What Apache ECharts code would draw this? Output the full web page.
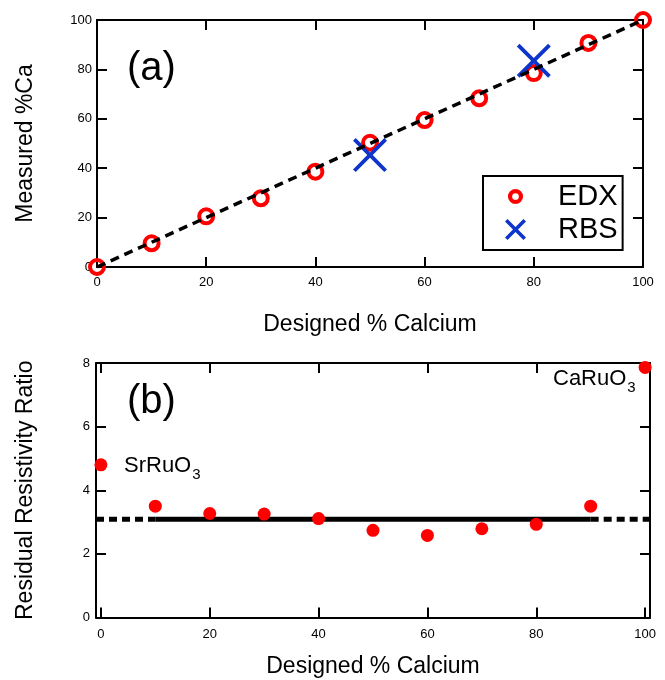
<!DOCTYPE html>
<html>
<head>
<meta charset="utf-8">
<script src="https://cdn.jsdelivr.net/npm/echarts@6/dist/echarts.min.js"></script>
<style>
html, body { margin: 0; padding: 0; background: #fff; }
#main { width: 665px; height: 680px; }
</style>
</head>
<body>
<div id="main"></div>
<script>
// 设计的 Ca 百分比
var designed = [0, 10, 20, 30, 40, 50, 60, 70, 80, 90, 100];
// (a) EDX 测得的 Ca
var edxMeasured = [0, 9.6, 20.5, 27.8, 38.6, 50.3, 59.5, 68.3, 78.5, 90.7, 100];
// (a) RBS 测得的 Ca
var rbsDesigned = [50, 80];
var rbsMeasured = [45.3, 83.5];
// (b) 剩余电阻比
var rrr = [4.8, 3.5, 3.27, 3.25, 3.11, 2.74, 2.58, 2.79, 2.93, 3.5, 7.86];
var rrrLevel = 3.09;
var rrrSolidRange = [10, 90];
// 刻度
var xTicks = [0, 20, 40, 60, 80, 100];
var xRangeB = [-0.9, 100.9];

var font = 'Liberation Sans, Arial, Helvetica, sans-serif';
var blue = '#0d35cc';
var crossPath = 'path://M0,8L8,0L50,42L92,0L100,8L58,50L100,92L92,100L50,58L8,100L0,92L42,50Z';
// 图例用的图标（100x100 的框）
var crossPathLegend = 'path://M0,12L12,0L50,38L88,0L100,12L62,50L100,88L88,100L50,62L12,100L0,88L38,50Z';
var ringPathLegend = 'path://M0,0L0.01,0L0,0Z M100,100L99.99,100L100,100Z ' +
    'M86,50A36,36,0,1,1,14,50A36,36,0,1,1,86,50Z ' +
    'M66,50A16,16,0,1,0,34,50A16,16,0,1,0,66,50Z';

function pairs(xs, ys) {
    return xs.map(function (x, i) { return [x, ys[i]]; });
}

// 四周的坐标轴样式
function axisBase(extra) {
    var a = {
        type: 'value',
        axisLine: { show: true, onZero: false, lineStyle: { color: '#000', width: 2 } },
        axisTick: { show: true, inside: true, length: 10, lineStyle: { color: '#000', width: 2 } },
        axisLabel: { color: '#000', fontSize: 13, fontFamily: font },
        splitLine: { show: false },
        nameTextStyle: { color: '#000', fontSize: 23, fontFamily: font }
    };
    for (var k in extra) { a[k] = extra[k]; }
    return a;
}

var div = document.getElementById('main');
var myChart = echarts.init(div);

var option = {
    backgroundColor: '#fff',
    animation: false,
    grid: [
        { left: 97, top: 20, width: 546, height: 247 },
        { left: 96, top: 363, width: 554, height: 254.5 }
    ],
    xAxis: [
        axisBase({ gridIndex: 0, position: 'bottom', min: 0, max: 100, interval: 20,
            axisLabel: { color: '#000', fontSize: 13, fontFamily: font, margin: 9 },
            name: 'Designed % Calcium', nameLocation: 'middle', nameGap: 46 }),
        axisBase({ gridIndex: 0, position: 'top', min: 0, max: 100, interval: 20,
            axisLabel: { show: false } }),
        axisBase({ gridIndex: 1, position: 'bottom', min: xRangeB[0], max: xRangeB[1],
            axisTick: { show: true, inside: true, length: 10, customValues: xTicks, lineStyle: { color: '#000', width: 2 } },
            axisLabel: { color: '#000', fontSize: 13, fontFamily: font, margin: 10, customValues: xTicks },
            name: 'Designed % Calcium', nameLocation: 'middle', nameGap: 38 }),
        axisBase({ gridIndex: 1, position: 'top', min: xRangeB[0], max: xRangeB[1],
            axisTick: { show: true, inside: true, length: 10, customValues: xTicks, lineStyle: { color: '#000', width: 2 } },
            axisLabel: { show: false } })
    ],
    yAxis: [
        axisBase({ gridIndex: 0, position: 'left', min: 0, max: 100, interval: 20,
            axisLabel: { color: '#000', fontSize: 13, fontFamily: font, margin: 5 },
            name: 'Measured %Ca', nameLocation: 'middle', nameGap: 60 }),
        axisBase({ gridIndex: 0, position: 'right', min: 0, max: 100, interval: 20,
            axisLabel: { show: false } }),
        axisBase({ gridIndex: 1, position: 'left', min: 0, max: 8, interval: 2,
            axisLabel: { color: '#000', fontSize: 13, fontFamily: font, margin: 6 },
            name: 'Residual Resistivity Ratio', nameLocation: 'middle', nameGap: 59 }),
        axisBase({ gridIndex: 1, position: 'right', min: 0, max: 8, interval: 2,
            axisLabel: { show: false } })
    ],
    legend: {
        data: [
            { name: 'EDX', icon: ringPathLegend, itemStyle: { color: '#f00', borderWidth: 0 } },
            { name: 'RBS', icon: crossPathLegend, itemStyle: { color: blue, borderWidth: 0 } }
        ],
        orient: 'vertical',
        left: 483,
        top: 176,
        itemWidth: 21,
        itemHeight: 21,
        itemGap: 4,
        padding: [6, 5, 6, 22],
        borderColor: '#000',
        borderWidth: 2,
        backgroundColor: '#fff',
        textStyle: { color: '#000', fontSize: 29, fontFamily: font, padding: [0, 0, 0, 27], lineHeight: 29 }
    },
    graphic: [
        { type: 'text', left: 127, top: 49, style: { text: '(a)', fontSize: 40, fontFamily: font, fill: '#000' } },
        { type: 'text', left: 127, top: 382, style: { text: '(b)', fontSize: 40, fontFamily: font, fill: '#000' } },
        { type: 'text', left: 124, top: 455, style: {
            text: '{n|SrRuO}{s|3}', fill: '#000',
            rich: { n: { fontSize: 22, fontFamily: font, verticalAlign: 'bottom' },
                    s: { fontSize: 15, fontFamily: font, verticalAlign: 'bottom', padding: [0, 0, -5, 1] } } } },
        { type: 'text', left: 553, top: 368, style: {
            text: '{n|CaRuO}{s|3}', fill: '#000',
            rich: { n: { fontSize: 22, fontFamily: font, verticalAlign: 'bottom' },
                    s: { fontSize: 15, fontFamily: font, verticalAlign: 'bottom', padding: [0, 0, -5, 1] } } } }
    ],
    series: [
        {
            name: 'EDX',
            type: 'scatter',
            xAxisIndex: 0,
            yAxisIndex: 0,
            symbol: 'circle',
            symbolSize: 14,
            itemStyle: { color: 'rgba(255,255,255,0)', borderColor: '#f00', borderWidth: 4, opacity: 1 },
            data: pairs(designed, edxMeasured),
            z: 2
        },
        {
            name: 'RBS',
            type: 'scatter',
            xAxisIndex: 0,
            yAxisIndex: 0,
            symbol: crossPath,
            symbolSize: 34,
            itemStyle: { color: blue, opacity: 1 },
            data: pairs(rbsDesigned, rbsMeasured),
            z: 3
        },
        {
            // y = x 虚线
            type: 'line',
            xAxisIndex: 0,
            yAxisIndex: 0,
            symbol: 'none',
            lineStyle: { color: '#000', width: 3.5, type: [9, 6] },
            data: [[0, 0], [100, 100]],
            z: 4
        },
        {
            type: 'line',
            xAxisIndex: 2,
            yAxisIndex: 2,
            symbol: 'none',
            lineStyle: { color: '#000', width: 5 },
            data: [[rrrSolidRange[0], rrrLevel], [rrrSolidRange[1], rrrLevel]],
            z: 2
        },
        {
            type: 'line',
            xAxisIndex: 2,
            yAxisIndex: 2,
            symbol: 'none',
            lineStyle: { color: '#000', width: 5, type: [8, 5] },
            data: [[xRangeB[0], rrrLevel], [rrrSolidRange[0], rrrLevel]],
            z: 2
        },
        {
            type: 'line',
            xAxisIndex: 2,
            yAxisIndex: 2,
            symbol: 'none',
            lineStyle: { color: '#000', width: 5, type: [8, 5] },
            data: [[rrrSolidRange[1], rrrLevel], [xRangeB[1], rrrLevel]],
            z: 2
        },
        {
            type: 'scatter',
            xAxisIndex: 2,
            yAxisIndex: 2,
            symbol: 'circle',
            symbolSize: 13,
            itemStyle: { color: '#f00', opacity: 1 },
            data: pairs(designed, rrr),
            z: 3
        }
    ]
};

myChart.setOption(option);
</script>
</body>
</html>
